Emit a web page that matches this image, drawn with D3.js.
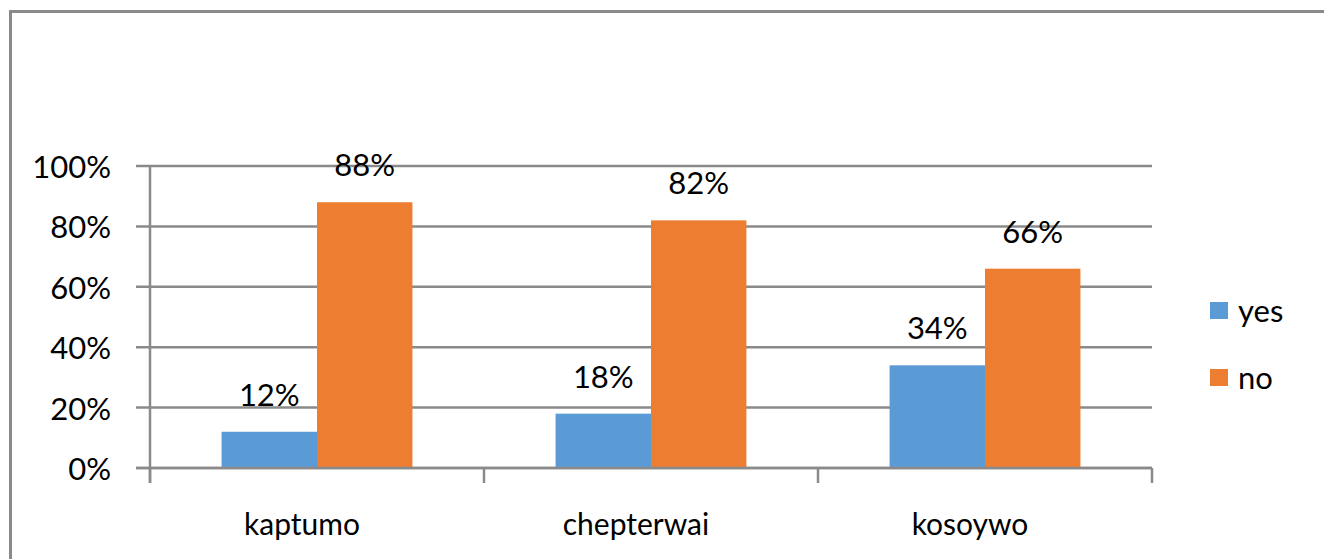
<!DOCTYPE html>
<html>
<head>
<meta charset="utf-8">
<script src="https://cdn.jsdelivr.net/npm/d3@7"></script>
<style>
  body { margin: 0; background: #fff; }
  text { font-family: Lato, "Open Sans", sans-serif; fill: #000; }
</style>
</head>
<body>
<div id="chart"></div>
<script>
const categories = ["kaptumo", "chepterwai", "kosoywo"];
const seriesNames = ["yes", "no"];
const yesValues = [0.12, 0.18, 0.34];
const noValues = [0.88, 0.82, 0.66];
const yTicks = [0, 0.2, 0.4, 0.6, 0.8, 1.0];
const colors = { yes: "#5B9BD5", no: "#ED7D31" };

const W = 1324, H = 559;
const margin = { top: 166, left: 150, right: 172, bottom: 91 };
const width = W - margin.left - margin.right,
      height = H - margin.top - margin.bottom;

const svg = d3.select("#chart").append("svg")
    .attr("width", W).attr("height", H);

// outer chart frame (cropped: only top and left visible)
svg.append("path")
    .attr("d", `M10.5,${H} V11.5 H${W}`)
    .attr("fill", "none").attr("stroke", "#8a8a8a").attr("stroke-width", 3);

const g = svg.append("g").attr("transform", `translate(${margin.left},${margin.top})`);

const x = d3.scaleBand().domain(categories).range([0, width]);
const x1 = d3.scaleBand().domain(seriesNames)
    .range([0, x.bandwidth()]).paddingOuter(0.75).paddingInner(0);
const y = d3.scaleLinear().domain([0, 1]).range([height, 0]);

// gridlines
g.selectAll(".grid").data(yTicks).join("line")
    .attr("x1", -14).attr("x2", width)
    .attr("y1", d => y(d)).attr("y2", d => y(d))
    .attr("stroke", "#8a8a8a").attr("stroke-width", 2.5);

// y labels
g.selectAll(".ylab").data(yTicks).join("text")
    .attr("x", -39).attr("y", d => y(d))
    .attr("text-anchor", "end").attr("dominant-baseline", "central")
    .style("font-size", "31px")
    .text(d3.format(".0%"));

const data = categories.map((c, i) => ({ cat: c, yes: yesValues[i], no: noValues[i] }));

const groups = g.selectAll(".grp").data(data).join("g")
    .attr("transform", d => `translate(${x(d.cat)},0)`);

groups.selectAll("rect").data(d => seriesNames.map(s => ({ s, v: d[s] }))).join("rect")
    .attr("x", d => x1(d.s)).attr("width", x1.bandwidth())
    .attr("y", d => y(d.v)).attr("height", d => height - y(d.v))
    .attr("fill", d => colors[d.s]);

groups.selectAll(".lbl").data(d => seriesNames.map(s => ({ s, v: d[s] }))).join("text")
    .attr("x", d => x1(d.s) + x1.bandwidth() / 2)
    .attr("y", d => y(d.v) - 26)
    .attr("text-anchor", "middle")
    .style("font-size", "31px")
    .text(d => d3.format(".0%")(d.v));

// axes lines
g.append("line").attr("x1", 0).attr("x2", 0).attr("y1", 0).attr("y2", height + 15)
    .attr("stroke", "#8a8a8a").attr("stroke-width", 2.5);
g.append("line").attr("x1", -14).attr("x2", width).attr("y1", height).attr("y2", height)
    .attr("stroke", "#8a8a8a").attr("stroke-width", 2.5);
g.selectAll(".xtick").data(categories.concat(["end"])).join("line")
    .attr("x1", (d, i) => i * x.bandwidth()).attr("x2", (d, i) => i * x.bandwidth())
    .attr("y1", height).attr("y2", height + 15)
    .attr("stroke", "#8a8a8a").attr("stroke-width", 2.5);

g.selectAll(".xlab").data(categories).join("text")
    .attr("x", d => x(d) + x.bandwidth() / 2 - 15)
    .attr("y", height + 55)
    .attr("text-anchor", "middle").attr("dominant-baseline", "central")
    .style("font-size", "30px")
    .text(d => d);

// legend
const legend = svg.append("g").attr("transform", "translate(1210,310)");
seriesNames.forEach((s, i) => {
  const row = legend.append("g").attr("transform", `translate(0,${i * 67})`);
  row.append("rect").attr("x", 0).attr("y", -8).attr("width", 18).attr("height", 17)
      .attr("fill", colors[s]);
  row.append("text").attr("x", 28).attr("y", 0)
      .attr("dominant-baseline", "central")
      .style("font-size", "31px").text(s);
});
</script>
</body>
</html>
